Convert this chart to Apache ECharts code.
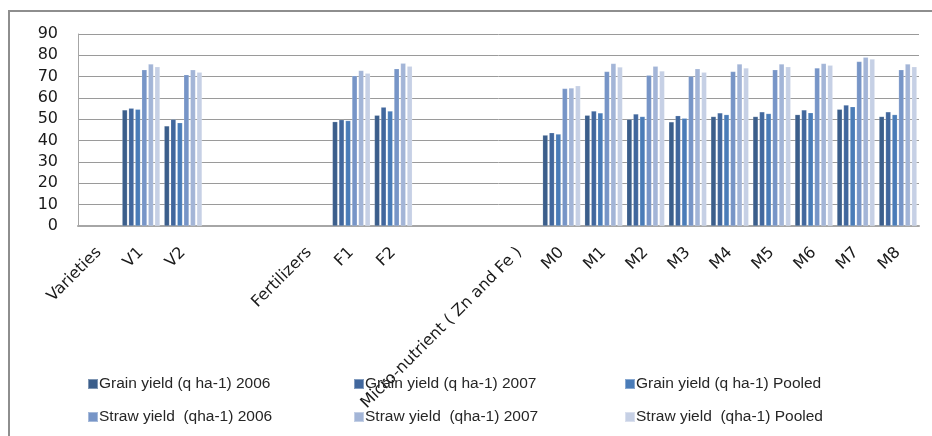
<!DOCTYPE html>
<html>
<head>
<meta charset="utf-8">
<script src="https://cdn.jsdelivr.net/npm/echarts@6/dist/echarts.min.js"></script>
<style>
  html, body { margin: 0; padding: 0; background: #fff; }
  #chart { width: 932px; height: 436px; }
</style>
</head>
<body>
<div id="chart"></div>
<script>
// Treatment groups along the x axis (blank slots separate the groups)
const categories = [
  'Varieties', 'V1', 'V2', '', '',
  'Fertilizers', 'F1', 'F2', '', '',
  'Micro-nutrient ( Zn and Fe )', 'M0', 'M1', 'M2', 'M3', 'M4', 'M5', 'M6', 'M7', 'M8'
];

const seriesNames = [
  'Grain yield (q ha-1) 2006',
  'Grain yield (q ha-1) 2007',
  'Grain yield (q ha-1) Pooled',
  'Straw yield  (qha-1) 2006',
  'Straw yield  (qha-1) 2007',
  'Straw yield  (qha-1) Pooled'
];

const grain2006  = [null, 54.4, 46.9, null, null, null, 48.9, 51.9, null, null, null, 42.6, 51.9, 50.0, 48.8, 51.3, 51.3, 52.2, 54.7, 51.3];
const grain2007  = [null, 55.2, 50.0, null, null, null, 49.8, 55.7, null, null, null, 43.7, 53.9, 52.5, 51.7, 53.0, 53.5, 54.4, 56.7, 53.5];
const grainPool  = [null, 54.7, 48.4, null, null, null, 49.4, 53.9, null, null, null, 43.1, 53.0, 51.3, 50.5, 52.2, 52.7, 53.1, 55.9, 52.2];
const straw2006  = [null, 73.2, 70.9, null, null, null, 70.4, 73.7, null, null, null, 64.4, 72.4, 70.7, 70.2, 72.4, 73.2, 74.1, 77.1, 73.2];
const straw2007  = [null, 75.9, 73.2, null, null, null, 72.9, 76.3, null, null, null, 64.7, 76.2, 74.9, 73.7, 75.9, 75.9, 76.2, 79.1, 75.9];
const strawPool  = [null, 74.6, 72.1, null, null, null, 71.6, 74.9, null, null, null, 65.7, 74.5, 72.7, 72.1, 74.1, 74.6, 75.4, 78.3, 74.6];

const yTicks = { min: 0, max: 90, interval: 10 };

const colors = ['#3b5e8b', '#41679d', '#4a7cb8', '#7795c7', '#a3b5d7', '#c6d0e5'];
const values = [grain2006, grain2007, grainPool, straw2006, straw2007, strawPool];

const font = 'DejaVu Sans, Verdana, sans-serif';

const chart = echarts.init(document.getElementById('chart'), null, { renderer: 'canvas' });

const legendCols = [
  { left: 82,  names: [seriesNames[0], seriesNames[3]] },
  { left: 348, names: [seriesNames[1], seriesNames[4]] },
  { left: 619, names: [seriesNames[2], seriesNames[5]] }
];

chart.setOption({
  animation: false,
  color: colors,
  graphic: [{
    type: 'rect',
    shape: { x: 9, y: 11, width: 960, height: 460 },
    style: { fill: 'none', stroke: '#8e8e8e', lineWidth: 2 },
    silent: true
  }],
  grid: { left: 78, top: 34, right: 13, bottom: 210 },
  legend: legendCols.map(c => ({
    data: c.names,
    orient: 'vertical',
    left: c.left,
    top: 371,
    itemWidth: 10,
    itemHeight: 10,
    itemGap: 17,
    icon: 'rect',
    textStyle: { fontFamily: 'Liberation Sans, Arial, sans-serif', fontSize: 15.5, color: '#262626', padding: [0, 0, 0, -4] }
  })),
  xAxis: {
    type: 'category',
    data: categories,
    axisLine: { show: true, lineStyle: { color: '#a6a6a6', width: 2 } },
    axisTick: { show: false },
    axisLabel: {
      interval: 0,
      rotate: 45,
      margin: 24,
      fontFamily: font,
      fontSize: 16,
      color: '#1a1a1a'
    }
  },
  yAxis: {
    type: 'value',
    min: yTicks.min,
    max: yTicks.max,
    interval: yTicks.interval,
    axisLine: { show: true, lineStyle: { color: '#a6a6a6', width: 1 } },
    axisTick: { show: false },
    axisLabel: { margin: 20, fontFamily: font, fontSize: 16, color: '#1a1a1a' },
    splitLine: { lineStyle: { color: '#9a9a9a', width: 1 } }
  },
  series: values.map((v, i) => ({
    name: seriesNames[i],
    type: 'bar',
    data: v,
    barGap: '25%',
    barCategoryGap: '10%',
    itemStyle: { color: colors[i], borderColor: 'rgba(255,255,255,0.35)', borderWidth: 0.5 }
  }))
});
</script>
</body>
</html>
